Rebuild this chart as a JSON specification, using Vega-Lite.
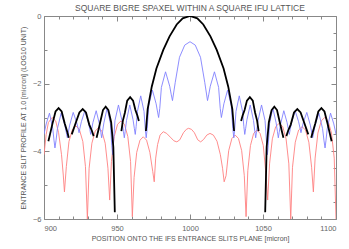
{
"$schema": "https://vega.github.io/schema/vega-lite/v6.json",
"width": 292, "height": 203,
"autosize": "none",
"padding": {"left": 44, "top": 16, "right": 13, "bottom": 30},
"background": "white",
"title": {"text": "SQUARE BIGRE SPAXEL WITHIN A SQUARE IFU LATTICE", "offset": 0, "fontSize": 8.5, "font": "Liberation Sans", "fontWeight": "normal", "color": "#555"},
"config": {"view": {"stroke": null}, "axis": {"domainColor": "#888", "tickColor": "#888", "labelColor": "#666", "labelFont": "Liberation Sans", "labelFontSize": 7.5, "titleFont": "Liberation Sans", "titleFontSize": 7, "titleFontWeight": "normal", "titleColor": "#555", "grid": false}},
"data": {"values": [
{"s":"red","g":"r","x":900,"y":-4.1},{"s":"red","g":"r","x":901.5,"y":-3.5},{"s":"red","g":"r","x":903,"y":-3.15},{"s":"red","g":"r","x":905.5,"y":-3.0},{"s":"red","g":"r","x":908,"y":-3.1},{"s":"red","g":"r","x":910,"y":-3.45},{"s":"red","g":"r","x":912,"y":-4.1},{"s":"red","g":"r","x":913.2,"y":-4.7},{"s":"red","g":"r","x":914,"y":-5.2},
{"s":"red","g":"r","x":915.3,"y":-4.45},{"s":"red","g":"r","x":917.1,"y":-3.71},{"s":"red","g":"r","x":919.5,"y":-3.35},{"s":"red","g":"r","x":921.85,"y":-3.25},{"s":"red","g":"r","x":924.2,"y":-3.35},{"s":"red","g":"r","x":926.6,"y":-3.71},{"s":"red","g":"r","x":928.4,"y":-4.45},{"s":"red","g":"r","x":929.7,"y":-6.0},
{"s":"red","g":"r","x":930.9,"y":-4.5},{"s":"red","g":"r","x":932.8,"y":-3.76},{"s":"red","g":"r","x":935.1,"y":-3.4},{"s":"red","g":"r","x":937.35,"y":-3.3},{"s":"red","g":"r","x":939.6,"y":-3.4},{"s":"red","g":"r","x":941.9,"y":-3.76},{"s":"red","g":"r","x":943.8,"y":-4.5},{"s":"red","g":"r","x":945,"y":-5.44},
{"s":"red","g":"r","x":946.2,"y":-4.3},{"s":"red","g":"r","x":948.1,"y":-3.56},{"s":"red","g":"r","x":950.4,"y":-3.2},{"s":"red","g":"r","x":952.75,"y":-3.1},{"s":"red","g":"r","x":955.1,"y":-3.2},{"s":"red","g":"r","x":957.4,"y":-3.56},{"s":"red","g":"r","x":959.3,"y":-4.3},{"s":"red","g":"r","x":960.5,"y":-5.93},
{"s":"red","g":"r","x":961.7,"y":-4.77},{"s":"red","g":"r","x":963.5,"y":-4.03},{"s":"red","g":"r","x":965.75,"y":-3.67},{"s":"red","g":"r","x":968,"y":-3.57},{"s":"red","g":"r","x":970.25,"y":-3.67},{"s":"red","g":"r","x":972.5,"y":-4.03},{"s":"red","g":"r","x":974.5,"y":-4.6},{"s":"red","g":"r","x":975.5,"y":-4.9},
{"s":"red","g":"r","x":976.5,"y":-4.2},{"s":"red","g":"r","x":977.8,"y":-3.8},{"s":"red","g":"r","x":979.5,"y":-3.52},{"s":"red","g":"r","x":981.7,"y":-3.42},{"s":"red","g":"r","x":984,"y":-3.47},{"s":"red","g":"r","x":986.5,"y":-3.58},{"s":"red","g":"r","x":989,"y":-3.69},{"s":"red","g":"r","x":991,"y":-3.72},{"s":"red","g":"r","x":993,"y":-3.66},{"s":"red","g":"r","x":995.5,"y":-3.45},{"s":"red","g":"r","x":997.5,"y":-3.35},{"s":"red","g":"r","x":999,"y":-3.32},{"s":"red","g":"r","x":1001,"y":-3.35},{"s":"red","g":"r","x":1003,"y":-3.45},{"s":"red","g":"r","x":1005.3,"y":-3.66},{"s":"red","g":"r","x":1007.3,"y":-3.72},{"s":"red","g":"r","x":1009.3,"y":-3.65},{"s":"red","g":"r","x":1011.5,"y":-3.52},{"s":"red","g":"r","x":1013.7,"y":-3.47},{"s":"red","g":"r","x":1016,"y":-3.52},{"s":"red","g":"r","x":1018.5,"y":-3.7},{"s":"red","g":"r","x":1020.8,"y":-4.1},{"s":"red","g":"r","x":1022.3,"y":-4.5},{"s":"red","g":"r","x":1023.4,"y":-4.9},
{"s":"red","g":"r","x":1024.7,"y":-4.72},{"s":"red","g":"r","x":1026.5,"y":-3.98},{"s":"red","g":"r","x":1028.7,"y":-3.62},{"s":"red","g":"r","x":1030.95,"y":-3.52},{"s":"red","g":"r","x":1033.2,"y":-3.62},{"s":"red","g":"r","x":1035.4,"y":-3.98},{"s":"red","g":"r","x":1037.2,"y":-4.72},{"s":"red","g":"r","x":1038.4,"y":-5.93},
{"s":"red","g":"r","x":1039.6,"y":-4.57},{"s":"red","g":"r","x":1041.4,"y":-3.83},{"s":"red","g":"r","x":1043.6,"y":-3.47},{"s":"red","g":"r","x":1045.8,"y":-3.37},{"s":"red","g":"r","x":1048,"y":-3.47},{"s":"red","g":"r","x":1050.2,"y":-3.83},{"s":"red","g":"r","x":1051.8,"y":-4.57},{"s":"red","g":"r","x":1053.2,"y":-5.44},
{"s":"red","g":"r","x":1054.5,"y":-4.37},{"s":"red","g":"r","x":1056.4,"y":-3.63},{"s":"red","g":"r","x":1058.7,"y":-3.27},{"s":"red","g":"r","x":1061.1,"y":-3.17},{"s":"red","g":"r","x":1063.5,"y":-3.27},{"s":"red","g":"r","x":1065.8,"y":-3.63},{"s":"red","g":"r","x":1067.7,"y":-4.37},{"s":"red","g":"r","x":1069,"y":-6.0},
{"s":"red","g":"r","x":1070.2,"y":-4.47},{"s":"red","g":"r","x":1072.1,"y":-3.73},{"s":"red","g":"r","x":1074.4,"y":-3.37},{"s":"red","g":"r","x":1076.75,"y":-3.27},{"s":"red","g":"r","x":1079.1,"y":-3.37},{"s":"red","g":"r","x":1081.4,"y":-3.73},{"s":"red","g":"r","x":1083.3,"y":-4.47},{"s":"red","g":"r","x":1084.5,"y":-5.2},
{"s":"red","g":"r","x":1085.7,"y":-4.2},{"s":"red","g":"r","x":1087.6,"y":-3.46},{"s":"red","g":"r","x":1089.9,"y":-3.1},{"s":"red","g":"r","x":1092.25,"y":-3.0},{"s":"red","g":"r","x":1094.6,"y":-3.1},{"s":"red","g":"r","x":1096.9,"y":-3.46},{"s":"red","g":"r","x":1098.8,"y":-4.2},{"s":"red","g":"r","x":1100,"y":-6.0},

{"s":"blue","g":"b","x":900,"y":-3.5},{"s":"blue","g":"b","x":900.6,"y":-3.37},{"s":"blue","g":"b","x":901.5,"y":-3.19},{"s":"blue","g":"b","x":903.75,"y":-2.87},{"s":"blue","g":"b","x":906,"y":-3.33},{"s":"blue","g":"b","x":906.9,"y":-3.69},{"s":"blue","g":"b","x":907.5,"y":-3.9},
{"s":"blue","g":"b","x":908.2,"y":-3.69},{"s":"blue","g":"b","x":909.2,"y":-3.33},{"s":"blue","g":"b","x":911.75,"y":-2.87},{"s":"blue","g":"b","x":914.3,"y":-3.235},{"s":"blue","g":"b","x":915.3,"y":-3.45},{"s":"blue","g":"b","x":916,"y":-3.6},
{"s":"blue","g":"b","x":916.6,"y":-3.45},{"s":"blue","g":"b","x":917.6,"y":-3.225},{"s":"blue","g":"b","x":920,"y":-2.85},{"s":"blue","g":"b","x":922.4,"y":-3.15},{"s":"blue","g":"b","x":923.4,"y":-3.33},{"s":"blue","g":"b","x":924,"y":-3.45},
{"s":"blue","g":"b","x":924.6,"y":-3.32},{"s":"blue","g":"b","x":925.6,"y":-3.125},{"s":"blue","g":"b","x":928,"y":-2.8},{"s":"blue","g":"b","x":930.4,"y":-3.15},{"s":"blue","g":"b","x":931.4,"y":-3.36},{"s":"blue","g":"b","x":932,"y":-3.5},
{"s":"blue","g":"b","x":932.6,"y":-3.36},{"s":"blue","g":"b","x":933.5,"y":-3.15},{"s":"blue","g":"b","x":935.75,"y":-2.8},{"s":"blue","g":"b","x":938,"y":-3.2},{"s":"blue","g":"b","x":938.9,"y":-3.44},{"s":"blue","g":"b","x":939.5,"y":-3.6},
{"s":"blue","g":"b","x":940.1,"y":-3.42},{"s":"blue","g":"b","x":941,"y":-3.16},{"s":"blue","g":"b","x":943.25,"y":-2.72},{"s":"blue","g":"b","x":945.5,"y":-3.18},{"s":"blue","g":"b","x":946.4,"y":-3.82},{"s":"blue","g":"b","x":947,"y":-4.1},
{"s":"blue","g":"b","x":947.6,"y":-3.73},{"s":"blue","g":"b","x":948.6,"y":-3.09},{"s":"blue","g":"b","x":951,"y":-2.63},{"s":"blue","g":"b","x":953.4,"y":-3.09},{"s":"blue","g":"b","x":954.4,"y":-3.41},{"s":"blue","g":"b","x":955,"y":-3.6},
{"s":"blue","g":"b","x":955.6,"y":-3.41},{"s":"blue","g":"b","x":956.5,"y":-3.09},{"s":"blue","g":"b","x":958.75,"y":-2.63},{"s":"blue","g":"b","x":961,"y":-3.065},{"s":"blue","g":"b","x":961.9,"y":-3.33},{"s":"blue","g":"b","x":962.5,"y":-3.5},
{"s":"blue","g":"b","x":963.1,"y":-3.27},{"s":"blue","g":"b","x":964,"y":-2.82},{"s":"blue","g":"b","x":966.25,"y":-2.36},{"s":"blue","g":"b","x":968.5,"y":-2.82},{"s":"blue","g":"b","x":969.4,"y":-3.35},{"s":"blue","g":"b","x":970,"y":-3.6},
{"s":"blue","g":"b","x":970.7,"y":-3.32},{"s":"blue","g":"b","x":971.7,"y":-2.65},{"s":"blue","g":"b","x":974.25,"y":-2.19},{"s":"blue","g":"b","x":976.8,"y":-2.595},{"s":"blue","g":"b","x":977.8,"y":-2.84},{"s":"blue","g":"b","x":978.5,"y":-3.0},
{"s":"blue","g":"b","x":979.3,"y":-2.73},{"s":"blue","g":"b","x":980.4,"y":-2.11},{"s":"blue","g":"b","x":983.25,"y":-1.65},{"s":"blue","g":"b","x":986.1,"y":-2.075},{"s":"blue","g":"b","x":987.2,"y":-2.33},{"s":"blue","g":"b","x":988,"y":-2.5},
{"s":"blue","g":"b","x":989.9,"y":-1.96},{"s":"blue","g":"b","x":992.8,"y":-1.22},{"s":"blue","g":"b","x":996.4,"y":-0.86},{"s":"blue","g":"b","x":1000,"y":-0.76},{"s":"blue","g":"b","x":1003.6,"y":-0.86},{"s":"blue","g":"b","x":1007.2,"y":-1.22},{"s":"blue","g":"b","x":1010.1,"y":-1.96},{"s":"blue","g":"b","x":1012,"y":-2.5},
{"s":"blue","g":"b","x":1012.8,"y":-2.33},{"s":"blue","g":"b","x":1013.9,"y":-2.075},{"s":"blue","g":"b","x":1016.75,"y":-1.65},{"s":"blue","g":"b","x":1019.6,"y":-2.11},{"s":"blue","g":"b","x":1020.7,"y":-2.73},{"s":"blue","g":"b","x":1021.5,"y":-3.0},
{"s":"blue","g":"b","x":1022.2,"y":-2.84},{"s":"blue","g":"b","x":1023.2,"y":-2.595},{"s":"blue","g":"b","x":1025.75,"y":-2.19},{"s":"blue","g":"b","x":1028.3,"y":-2.65},{"s":"blue","g":"b","x":1029.3,"y":-3.32},{"s":"blue","g":"b","x":1030,"y":-3.6},
{"s":"blue","g":"b","x":1030.6,"y":-3.35},{"s":"blue","g":"b","x":1031.5,"y":-2.82},{"s":"blue","g":"b","x":1033.75,"y":-2.36},{"s":"blue","g":"b","x":1036,"y":-2.82},{"s":"blue","g":"b","x":1036.9,"y":-3.27},{"s":"blue","g":"b","x":1037.5,"y":-3.5},
{"s":"blue","g":"b","x":1038.1,"y":-3.33},{"s":"blue","g":"b","x":1039,"y":-3.065},{"s":"blue","g":"b","x":1041.25,"y":-2.63},{"s":"blue","g":"b","x":1043.5,"y":-3.09},{"s":"blue","g":"b","x":1044.4,"y":-3.41},{"s":"blue","g":"b","x":1045,"y":-3.6},
{"s":"blue","g":"b","x":1045.6,"y":-3.41},{"s":"blue","g":"b","x":1046.6,"y":-3.09},{"s":"blue","g":"b","x":1049,"y":-2.63},{"s":"blue","g":"b","x":1051.4,"y":-3.09},{"s":"blue","g":"b","x":1052.4,"y":-3.73},{"s":"blue","g":"b","x":1053,"y":-4.1},
{"s":"blue","g":"b","x":1053.6,"y":-3.82},{"s":"blue","g":"b","x":1054.5,"y":-3.18},{"s":"blue","g":"b","x":1056.75,"y":-2.72},{"s":"blue","g":"b","x":1059,"y":-3.16},{"s":"blue","g":"b","x":1059.9,"y":-3.42},{"s":"blue","g":"b","x":1060.5,"y":-3.6},
{"s":"blue","g":"b","x":1061.1,"y":-3.44},{"s":"blue","g":"b","x":1062,"y":-3.2},{"s":"blue","g":"b","x":1064.25,"y":-2.8},{"s":"blue","g":"b","x":1066.5,"y":-3.15},{"s":"blue","g":"b","x":1067.4,"y":-3.36},{"s":"blue","g":"b","x":1068,"y":-3.5},
{"s":"blue","g":"b","x":1068.6,"y":-3.36},{"s":"blue","g":"b","x":1069.6,"y":-3.15},{"s":"blue","g":"b","x":1072,"y":-2.8},{"s":"blue","g":"b","x":1074.4,"y":-3.125},{"s":"blue","g":"b","x":1075.4,"y":-3.32},{"s":"blue","g":"b","x":1076,"y":-3.45},
{"s":"blue","g":"b","x":1076.6,"y":-3.33},{"s":"blue","g":"b","x":1077.6,"y":-3.15},{"s":"blue","g":"b","x":1080,"y":-2.85},{"s":"blue","g":"b","x":1082.4,"y":-3.225},{"s":"blue","g":"b","x":1083.4,"y":-3.45},{"s":"blue","g":"b","x":1084,"y":-3.6},
{"s":"blue","g":"b","x":1084.7,"y":-3.45},{"s":"blue","g":"b","x":1085.7,"y":-3.235},{"s":"blue","g":"b","x":1088.25,"y":-2.87},{"s":"blue","g":"b","x":1090.8,"y":-3.33},{"s":"blue","g":"b","x":1091.8,"y":-3.69},{"s":"blue","g":"b","x":1092.5,"y":-3.9},
{"s":"blue","g":"b","x":1093.1,"y":-3.69},{"s":"blue","g":"b","x":1094,"y":-3.33},{"s":"blue","g":"b","x":1096.25,"y":-2.87},{"s":"blue","g":"b","x":1098.5,"y":-3.19},{"s":"blue","g":"b","x":1099.4,"y":-3.37},{"s":"blue","g":"b","x":1100,"y":-3.5},

{"s":"black","g":"L1","x":903,"y":-3.7},{"s":"black","g":"L1","x":904.1,"y":-3.5},{"s":"black","g":"L1","x":905.8,"y":-3.18},{"s":"black","g":"L1","x":907.9,"y":-2.82},{"s":"black","g":"L1","x":910,"y":-2.72},{"s":"black","g":"L1","x":912.1,"y":-2.82},{"s":"black","g":"L1","x":914.2,"y":-3.18},{"s":"black","g":"L1","x":915.9,"y":-3.42},{"s":"black","g":"L1","x":917,"y":-3.6},
{"s":"black","g":"L2","x":919,"y":-3.5},{"s":"black","g":"L2","x":920.2,"y":-3.35},{"s":"black","g":"L2","x":922,"y":-3.125},{"s":"black","g":"L2","x":924.25,"y":-2.85},{"s":"black","g":"L2","x":926.5,"y":-2.75},{"s":"black","g":"L2","x":928.75,"y":-2.85},{"s":"black","g":"L2","x":931,"y":-3.21},{"s":"black","g":"L2","x":932.8,"y":-3.39},{"s":"black","g":"L2","x":934,"y":-3.55},
{"s":"black","g":"L3","x":936,"y":-3.6},{"s":"black","g":"L3","x":937,"y":-3.42},{"s":"black","g":"L3","x":938.5,"y":-3.14},{"s":"black","g":"L3","x":940.4,"y":-2.78},{"s":"black","g":"L3","x":942.25,"y":-2.68},{"s":"black","g":"L3","x":944.1,"y":-2.78},{"s":"black","g":"L3","x":946,"y":-3.14},{"s":"black","g":"L3","x":947.5,"y":-3.88},{"s":"black","g":"L3","x":948.5,"y":-5.8},
{"s":"black","g":"L4","x":953,"y":-3.4},{"s":"black","g":"L4","x":954,"y":-3.1},{"s":"black","g":"L4","x":955.4,"y":-2.86},{"s":"black","g":"L4","x":957,"y":-2.5},{"s":"black","g":"L4","x":959,"y":-2.4},{"s":"black","g":"L4","x":961,"y":-2.5},{"s":"black","g":"L4","x":962.6,"y":-2.78},{"s":"black","g":"L4","x":964,"y":-2.95},{"s":"black","g":"L4","x":965,"y":-3.1},
{"s":"black","g":"M","x":969.8,"y":-3.4},{"s":"black","g":"M","x":971,"y":-2.75},{"s":"black","g":"M","x":973.8,"y":-2.09},{"s":"black","g":"M","x":977,"y":-1.55},{"s":"black","g":"M","x":981.7,"y":-1.0},{"s":"black","g":"M","x":986,"y":-0.6},{"s":"black","g":"M","x":990.9,"y":-0.25},{"s":"black","g":"M","x":995,"y":-0.07},{"s":"black","g":"M","x":1000,"y":0},{"s":"black","g":"M","x":1005,"y":-0.07},{"s":"black","g":"M","x":1009.1,"y":-0.25},{"s":"black","g":"M","x":1014,"y":-0.6},{"s":"black","g":"M","x":1018.3,"y":-1.0},{"s":"black","g":"M","x":1023,"y":-1.55},{"s":"black","g":"M","x":1026.2,"y":-2.09},{"s":"black","g":"M","x":1029,"y":-2.75},{"s":"black","g":"M","x":1030.2,"y":-3.4},
{"s":"black","g":"R4","x":1035,"y":-3.1},{"s":"black","g":"R4","x":1036,"y":-2.95},{"s":"black","g":"R4","x":1037.4,"y":-2.78},{"s":"black","g":"R4","x":1039,"y":-2.5},{"s":"black","g":"R4","x":1041,"y":-2.4},{"s":"black","g":"R4","x":1043,"y":-2.5},{"s":"black","g":"R4","x":1044.6,"y":-2.86},{"s":"black","g":"R4","x":1046,"y":-3.1},{"s":"black","g":"R4","x":1047,"y":-3.4},
{"s":"black","g":"R3","x":1051.5,"y":-5.8},{"s":"black","g":"R3","x":1052.5,"y":-3.88},{"s":"black","g":"R3","x":1054,"y":-3.14},{"s":"black","g":"R3","x":1055.9,"y":-2.78},{"s":"black","g":"R3","x":1057.75,"y":-2.68},{"s":"black","g":"R3","x":1059.6,"y":-2.78},{"s":"black","g":"R3","x":1061.5,"y":-3.14},{"s":"black","g":"R3","x":1063,"y":-3.42},{"s":"black","g":"R3","x":1064,"y":-3.6},
{"s":"black","g":"R2","x":1066,"y":-3.55},{"s":"black","g":"R2","x":1067.2,"y":-3.39},{"s":"black","g":"R2","x":1069,"y":-3.21},{"s":"black","g":"R2","x":1071.25,"y":-2.85},{"s":"black","g":"R2","x":1073.5,"y":-2.75},{"s":"black","g":"R2","x":1075.75,"y":-2.85},{"s":"black","g":"R2","x":1078,"y":-3.125},{"s":"black","g":"R2","x":1079.8,"y":-3.35},{"s":"black","g":"R2","x":1081,"y":-3.5},
{"s":"black","g":"R1","x":1083,"y":-3.6},{"s":"black","g":"R1","x":1084.1,"y":-3.43},{"s":"black","g":"R1","x":1085.8,"y":-3.18},{"s":"black","g":"R1","x":1087.9,"y":-2.82},{"s":"black","g":"R1","x":1090,"y":-2.72},{"s":"black","g":"R1","x":1092.1,"y":-2.82},{"s":"black","g":"R1","x":1094.2,"y":-3.18},{"s":"black","g":"R1","x":1095.9,"y":-3.5},{"s":"black","g":"R1","x":1097,"y":-3.7}
]},
"resolve": {"axis": {"x": "independent", "y": "independent"}},
"layer": [
{"transform": [{"filter": "datum.s === 'red'"}],
 "mark": {"type": "line", "color": "#ff8080", "strokeWidth": 0.9, "clip": true},
 "encoding": {
  "x": {"field": "x", "type": "quantitative", "scale": {"domain": [900, 1100], "nice": false, "zero": false},
   "axis": {"orient": "bottom", "title": "POSITION ONTO THE IFS ENTRANCE SLITS PLANE [micron]", "titlePadding": 3, "format": "d",
    "values": [900,910,920,930,940,950,960,970,980,990,1000,1010,1020,1030,1040,1050,1060,1070,1080,1090,1100],
    "labelExpr": "datum.value % 50 === 0 ? datum.label : ''", "labelPadding": 10,
    "tickSize": {"condition": {"test": "datum.value % 50 === 0", "value": -5}, "value": -3}}},
  "y": {"field": "y", "type": "quantitative", "scale": {"domain": [-6, 0], "nice": false, "zero": false},
   "axis": {"orient": "left", "title": "ENTRANCE SLIT PROFILE AT 1.0 [micron] (LOG10 UNIT)", "titlePadding": 6, "format": "d",
    "values": [-6,-5.5,-5,-4.5,-4,-3.5,-3,-2.5,-2,-1.5,-1,-0.5,0],
    "labelExpr": "datum.value % 2 === 0 ? datum.label : ''", "labelPadding": 8,
    "tickSize": {"condition": {"test": "datum.value % 2 === 0", "value": -5}, "value": -3}}},
  "order": {"field": "x", "type": "quantitative"}
 }},
{"transform": [{"filter": "datum.s === 'blue'"}],
 "mark": {"type": "line", "color": "#8080ff", "strokeWidth": 0.9, "clip": true},
 "encoding": {
  "x": {"field": "x", "type": "quantitative", "axis": null},
  "y": {"field": "y", "type": "quantitative", "axis": null},
  "order": {"field": "x", "type": "quantitative"}
 }},
{"transform": [{"filter": "datum.s === 'black'"}],
 "mark": {"type": "line", "color": "#000000", "strokeWidth": 1.8, "clip": true},
 "encoding": {
  "x": {"field": "x", "type": "quantitative", "axis": null},
  "y": {"field": "y", "type": "quantitative", "axis": null},
  "detail": {"field": "g"},
  "order": {"field": "x", "type": "quantitative"}
 }},
{"transform": [{"filter": "datum.s === 'red'"}],
 "mark": {"type": "line", "opacity": 0},
 "encoding": {
  "x": {"field": "x", "type": "quantitative",
   "axis": {"orient": "top", "title": null, "labels": false,
    "values": [900,910,920,930,940,950,960,970,980,990,1000,1010,1020,1030,1040,1050,1060,1070,1080,1090,1100],
    "tickSize": {"condition": {"test": "datum.value % 50 === 0", "value": -5}, "value": -3}}},
  "y": {"field": "y", "type": "quantitative",
   "axis": {"orient": "right", "title": null, "labels": false,
    "values": [-6,-5.5,-5,-4.5,-4,-3.5,-3,-2.5,-2,-1.5,-1,-0.5,0],
    "tickSize": {"condition": {"test": "datum.value % 2 === 0", "value": -5}, "value": -3}}}
 }}
]
}
